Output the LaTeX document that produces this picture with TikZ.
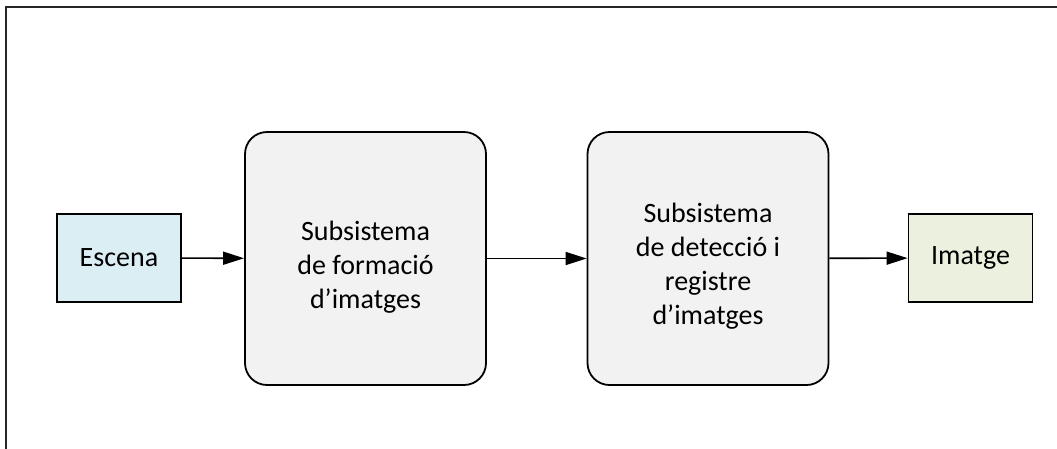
\documentclass[tikz,border=0pt]{standalone}
\usepackage{fontspec}
\setmainfont{Carlito}
\usetikzlibrary{arrows.meta}
\definecolor{scenefill}{HTML}{DAEEF3}
\definecolor{imagefill}{HTML}{EBF1DE}
\definecolor{blockfill}{HTML}{F2F2F2}
\begin{document}
\begin{tikzpicture}[x=1pt,y=-1pt,
  every node/.style={font=\fontsize{28}{34}\selectfont},
  endbox/.style={draw=black, line width=1.8pt, minimum width=124pt, minimum height=88pt, inner sep=0pt},
  block/.style={draw=black, line width=1.8pt, fill=blockfill, rounded corners=22pt,
    minimum width=241pt, minimum height=253pt, inner sep=0pt},
  blocktext/.style={align=center, inner sep=0pt},
  flow/.style={line width=1.6pt, -{Triangle[length=21pt,width=13pt]}}]
  \useasboundingbox (0,0) rectangle (1057,448);
  % frame (top and left edges)
  \draw[line width=2pt, color=black!85] (6,450) -- (6,7) -- (1059,7);
  % blocks
  \node[endbox, fill=scenefill] (scene) at (119,258) {Escena};
  \node[block] (form) at (365.5,258.5) {};
  \node[blocktext] (formtext) at (365.5,267) {Subsistema\\de formació\\d’imatges};
  \node[block] (det) at (708,258.5) {};
  \node[blocktext] (dettext) at (708,266) {Subsistema\\de detecció i\\registre\\d’imatges};
  \node[endbox, fill=imagefill] (img) at (970.5,258) {Imatge};
  % connectors
  \draw[flow] (scene) -- (form);
  \draw[flow] (form) -- (det);
  \draw[flow] (det) -- (img);
\end{tikzpicture}
\end{document}
